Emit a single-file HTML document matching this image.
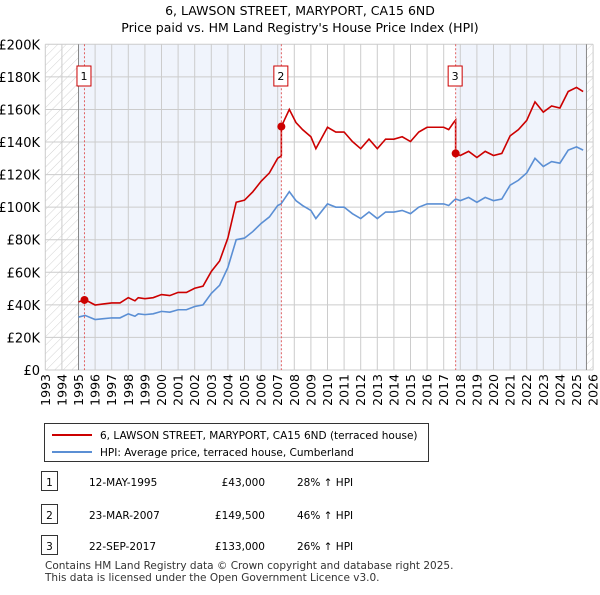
<!DOCTYPE html>
<html><head><meta charset="utf-8"><style>
body{margin:0;background:#fff;font-family:"Liberation Sans","DejaVu Sans",sans-serif;}
svg text{font-family:"DejaVu Sans","Liberation Sans",sans-serif;}
</style></head><body>
<svg id="c" width="600" height="590" xmlns="http://www.w3.org/2000/svg">
<defs><pattern id="h" width="6" height="6" patternUnits="userSpaceOnUse" patternTransform="rotate(45)"><line x1="0" y1="0" x2="0" y2="6" stroke="#c8c8c8" stroke-width="0.8"/></pattern></defs>
<text x="300" y="15" text-anchor="middle" font-size="12.5">6, LAWSON STREET, MARYPORT, CA15 6ND</text>
<text x="300" y="32" text-anchor="middle" font-size="12.5">Price paid vs. HM Land Registry's House Price Index (HPI)</text>
<g id="plot"></g>
<g>
<rect x="44.5" y="423.5" width="384" height="38" fill="#fff" stroke="#333"/>
<line x1="52" y1="435" x2="92" y2="435" stroke="#cc0000" stroke-width="2"/>
<text x="100" y="439" font-size="10.5">6, LAWSON STREET, MARYPORT, CA15 6ND (terraced house)</text>
<line x1="52" y1="452" x2="92" y2="452" stroke="#5b8fd4" stroke-width="2"/>
<text x="100" y="456" font-size="10.5">HPI: Average price, terraced house, Cumberland</text>
</g>
<g id="tbl" font-size="10.5"></g>
<text x="45" y="569" font-size="10.5" fill="#333">Contains HM Land Registry data © Crown copyright and database right 2025.</text>
<text x="45" y="581" font-size="10.5" fill="#333">This data is licensed under the Open Government Licence v3.0.</text>
</svg>
<script>
const hpiYears=[1995.0,1995.4,1996.0,1996.5,1997.0,1997.5,1998.0,1998.4,1998.6,1999.0,1999.5,2000.0,2000.5,2001.0,2001.5,2002.0,2002.5,2003.0,2003.5,2004.0,2004.5,2005.0,2005.5,2006.0,2006.5,2007.0,2007.2,2007.7,2008.1,2008.5,2009.0,2009.3,2010.0,2010.5,2011.0,2011.5,2012.0,2012.5,2013.0,2013.5,2014.0,2014.5,2015.0,2015.5,2016.0,2016.5,2017.0,2017.3,2017.6,2017.72,2018.0,2018.5,2019.0,2019.5,2020.0,2020.5,2021.0,2021.5,2022.0,2022.5,2023.0,2023.5,2024.0,2024.5,2025.0,2025.4];
const hpiValues=[32.5,33.5,31,31.5,32,32,34.5,33,34.5,34,34.5,36,35.5,37,37,39,40,47,52,63,80,81,85,90,94,101,102,109.5,104,101,98,93,102,100,100,96,93,97,93,97,97,98,96,100,102,102,102,101,104,105,104,106,103,106,104,105,113.5,116.5,121,130,125,128,127,135,137,135];
const saleYears=[1995.36,2007.22,2017.72];
const salePrices=[43000,149500,133000];
const saleDates=["12-MAY-1995","23-MAR-2007","22-SEP-2017"];
const salePriceLabels=["£43,000","£149,500","£133,000"];
const saleHpiLabels=["28% ↑ HPI","46% ↑ HPI","26% ↑ HPI"];
const yTicks=[0,20,40,60,80,100,120,140,160,180,200];
const xTicks=[1993,1994,1995,1996,1997,1998,1999,2000,2001,2002,2003,2004,2005,2006,2007,2008,2009,2010,2011,2012,2013,2014,2015,2016,2017,2018,2019,2020,2021,2022,2023,2024,2025,2026];

const NS="http://www.w3.org/2000/svg";
const X0=45.3,X1=593.1,Y0=370,Y1=44.3;
const xs=y=>X0+(y-1993)/33*(X1-X0);
const ys=v=>Y0-v/200*(Y0-Y1);
const plot=document.getElementById('plot');
function mk(tag,at,par){const e=document.createElementNS(NS,tag);for(const k in at)e.setAttribute(k,at[k]);(par||plot).appendChild(e);return e;}
function hpiAt(t){for(let i=0;i<hpiYears.length-1;i++){if(t>=hpiYears[i]&&t<=hpiYears[i+1]){const f=(t-hpiYears[i])/(hpiYears[i+1]-hpiYears[i]);return hpiValues[i]+f*(hpiValues[i+1]-hpiValues[i]);}}return hpiValues[hpiValues.length-1];}

let e;
e=mk('rect',{x:X0,y:Y1,width:X1-X0,height:Y0-Y1,fill:'#fff'});


e=mk('rect',{x:xs(1995),y:Y1,width:xs(saleYears[1])-xs(1995),height:Y0-Y1,fill:'#f0f4fc'});


const lastY=hpiYears[hpiYears.length-1]+0.2;
e=mk('rect',{x:xs(saleYears[2]),y:Y1,width:xs(lastY)-xs(saleYears[2]),height:Y0-Y1,fill:'#f0f4fc'});


e=mk('rect',{x:X0,y:Y1,width:xs(1995)-X0,height:Y0-Y1,fill:'url(#h)'});


e=mk('rect',{x:xs(lastY),y:Y1,width:X1-xs(lastY),height:Y0-Y1,fill:'url(#h)'});


xTicks.forEach(t=>{
 e=mk('line',{x1:xs(t),x2:xs(t),y1:Y1,y2:Y0,stroke:'#ccc','stroke-width':1});
 
 
 e=mk('text',{x:0,y:0,transform:`translate(${xs(t)+4.5},${Y0+4}) rotate(-90)`,'text-anchor':'end','font-size':12.5});
 e.textContent=t;
 
 
});
yTicks.forEach(v=>{
 e=mk('line',{x1:X0,x2:X1,y1:ys(v*1),y2:ys(v*1),stroke:'#ccc','stroke-width':1});
 
 
 e=mk('text',{x:40,y:ys(v)+5,'text-anchor':'end','font-size':13});
 e.textContent=v===0?'£0':'£'+v+'K';
 
 
});
e=mk('line',{x1:xs(1995),x2:xs(1995),y1:Y1,y2:Y0,stroke:'#888','stroke-width':1});


e=mk('line',{x1:xs(lastY),x2:xs(lastY),y1:Y1,y2:Y0,stroke:'#888','stroke-width':1});



e=mk('polyline',{points:hpiYears.map((t,i)=>xs(t)+','+ys(hpiValues[i])).join(' '),fill:'none',stroke:'#5b8fd4','stroke-width':1.6});


const ratios=saleYears.map((s,i)=>salePrices[i]/1000/hpiAt(s));
let pts=[];
hpiYears.forEach((t,i)=>{
 let k=0;for(let j=0;j<saleYears.length;j++)if(t>=saleYears[j])k=j;
 pts.push([t,hpiValues[i]*ratios[k]]);
});
saleYears.forEach((s,j)=>{if(j>0){pts.push([s-0.001,hpiAt(s)*ratios[j-1]]);}pts.push([s,salePrices[j]/1000]);});
pts.sort((a,b)=>a[0]-b[0]);
e=mk('polyline',{points:pts.map(p=>xs(p[0])+','+ys(p[1])).join(' '),fill:'none',stroke:'#cc0000','stroke-width':1.6});


saleYears.forEach((s,j)=>{
 e=mk('line',{x1:xs(s),x2:xs(s),y1:Y1,y2:Y0,stroke:'#e06060','stroke-width':1,'stroke-dasharray':'2,2'});
 
 
 e=mk('circle',{cx:xs(s),cy:ys(salePrices[j]/1000),r:4,fill:'#cc0000'});
 
 
 e=mk('rect',{x:xs(s)-7.5,y:66,width:14,height:20,fill:'#fff',stroke:'#cc0000'});
 
 
 e=mk('text',{x:xs(s)-0.5,y:80,'text-anchor':'middle','font-size':11});
 e.textContent=j+1;
 
 
});
const tbl=document.getElementById('tbl');
const rowY=[482,515,546];
saleYears.forEach((s,j)=>{
 e=mk('rect',{x:41.5,y:rowY[j]-10.5,width:16,height:19,fill:'#fff',stroke:'#333'},tbl);
 
 
 const cells=[[49.5,String(j+1),'middle'],[89,saleDates[j],'start'],[265,salePriceLabels[j],'end'],[297,saleHpiLabels[j],'start']];
 cells.forEach(c=>{
  e=mk('text',{x:c[0],y:rowY[j]+4,'text-anchor':c[2]},tbl);
  e.textContent=c[1];
  
  
 });
});
</script>
</body></html>
